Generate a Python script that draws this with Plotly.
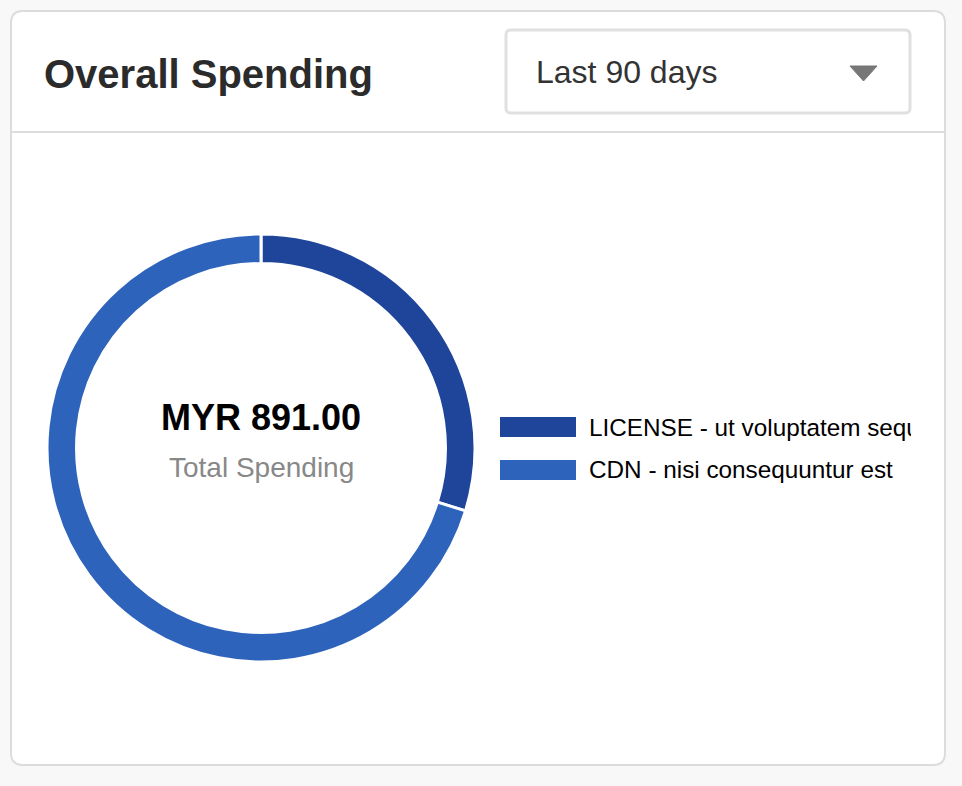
import plotly.graph_objects as go

# ---- data ----
categories = ["LICENSE - ut voluptatem sequi", "CDN - nisi consequuntur est"]
values = [265.0, 626.0]
colors = ["#1f459b", "#2e63bb"]
currency = "MYR"
title_text = "Overall Spending"
period_text = "Last 90 days"
center_sub = "Total Spending"

W, H = 962, 786


def px(x):
    return x / W


def py(y):
    return 1 - y / H


def rrect(x0, y0, x1, y1, r):
    pts = [
        f"M {px(x0 + r)} {py(y0)}",
        f"L {px(x1 - r)} {py(y0)}",
        f"Q {px(x1)} {py(y0)} {px(x1)} {py(y0 + r)}",
        f"L {px(x1)} {py(y1 - r)}",
        f"Q {px(x1)} {py(y1)} {px(x1 - r)} {py(y1)}",
        f"L {px(x0 + r)} {py(y1)}",
        f"Q {px(x0)} {py(y1)} {px(x0)} {py(y1 - r)}",
        f"L {px(x0)} {py(y0 + r)}",
        f"Q {px(x0)} {py(y0)} {px(x0 + r)} {py(y0)}",
        "Z",
    ]
    return " ".join(pts)


FONT = "Liberation Sans, Arial, Helvetica, sans-serif"

cx, cy, R = 261, 448, 214

fig = go.Figure(
    go.Pie(
        labels=categories,
        values=values,
        marker=dict(colors=colors, line=dict(color="white", width=3)),
        hole=0.862,
        sort=False,
        direction="clockwise",
        rotation=0,
        textinfo="none",
        hoverinfo="label+value",
        showlegend=False,
        domain=dict(x=[px(cx - R), px(cx + R)], y=[py(cy + R), py(cy - R)]),
    )
)

shapes = [
    dict(type="path", path=rrect(11, 11, 945, 765, 12), xref="paper", yref="paper",
         fillcolor="white", line=dict(color="#dcdcdc", width=2), layer="below"),
    dict(type="line", x0=px(12), x1=px(944), y0=py(132), y1=py(132), xref="paper", yref="paper",
         line=dict(color="#dddddd", width=2), layer="below"),
    dict(type="path", path=rrect(506, 30, 910, 113, 5), xref="paper", yref="paper",
         fillcolor="white", line=dict(color="#e0e0e0", width=3), layer="below"),
    dict(type="path",
         path=f"M {px(850)} {py(66)} L {px(877)} {py(66)} L {px(863.5)} {py(81)} Z",
         xref="paper", yref="paper", fillcolor="#777777", line=dict(color="#777777", width=1)),
]

annotations = [
    dict(text=f"<b>{title_text}</b>", x=px(42), y=py(74), xref="paper", yref="paper",
         xanchor="left", yanchor="middle", showarrow=False,
         font=dict(family=FONT, size=40, color="#2b2b2b")),
    dict(text=period_text, x=px(534), y=py(72), xref="paper", yref="paper",
         xanchor="left", yanchor="middle", showarrow=False,
         font=dict(family=FONT, size=32, color="#333333")),
    dict(text=f"<b>{currency} {sum(values):,.2f}</b>", x=px(cx), y=py(417), xref="paper", yref="paper",
         xanchor="center", yanchor="middle", showarrow=False,
         font=dict(family=FONT, size=36, color="#000000")),
    dict(text=center_sub, x=px(cx), y=py(467), xref="paper", yref="paper",
         xanchor="center", yanchor="middle", showarrow=False,
         font=dict(family=FONT, size=28, color="#888888")),
]

row_y = [427, 470]
for i, (lab, col) in enumerate(zip(categories, colors)):
    yc = row_y[i]
    shapes.append(dict(type="rect", x0=px(500), x1=px(576), y0=py(yc - 10), y1=py(yc + 10),
                       xref="paper", yref="paper", fillcolor=col, line=dict(width=0)))
    annotations.append(dict(text=lab, x=px(588), y=py(yc), xref="paper", yref="paper",
                            xanchor="left", yanchor="middle", showarrow=False, align="left",
                            width=322, borderpad=0,
                            font=dict(family=FONT, size=24.3, color="#000000")))

fig.update_layout(
    width=W, height=H,
    margin=dict(l=0, r=0, t=0, b=0),
    paper_bgcolor="#f8f8f8",
    plot_bgcolor="#f8f8f8",
    shapes=shapes,
    annotations=annotations,
    showlegend=False,
)

fig.write_html("out.html", config={"displayModeBar": False},
               post_script="document.body.style.margin='0';document.body.style.overflow='hidden';")
